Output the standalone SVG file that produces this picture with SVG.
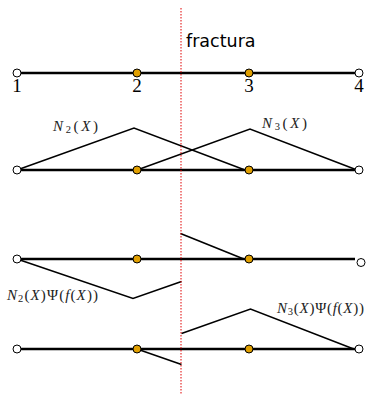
<svg xmlns="http://www.w3.org/2000/svg" width="366" height="394" viewBox="0 0 366 394">
<style>
.bar{stroke:#000;stroke-width:2.6;fill:none}
.fn{stroke:#000;stroke-width:1.6;fill:none;stroke-linejoin:miter}
.w{fill:#fff;stroke:#000;stroke-width:1}
.o{fill:#E09F00;stroke:#000;stroke-width:1}
.num{font-family:"Liberation Serif","DejaVu Serif",serif;font-size:19px;text-anchor:middle}
.m{font-family:"Liberation Serif","DejaVu Serif",serif;font-size:15px;fill:#222}
.i{font-style:italic}
.s{font-size:10.5px}
</style>
<rect width="366" height="394" fill="#fff"/>
<g id="connectors">
<line class="bar" x1="17" y1="73" x2="359" y2="73"/>
<line class="bar" x1="17" y1="170" x2="359" y2="170"/>
<line class="bar" x1="17" y1="259" x2="355" y2="259"/>
<line class="bar" x1="17" y1="349" x2="359" y2="349"/>
<polyline class="fn" points="17,170 134,128 245,170"/>
<polyline class="fn" points="137,170 250,129 357,170"/>
<polyline class="fn" points="17,259 133,298.5 181.5,281.5"/>
<polyline class="fn" points="180.5,233.5 245,259.5"/>
<polyline class="fn" points="137,349 181.5,364.5"/>
<polyline class="fn" points="181.5,333.5 250.5,309 355,349.5"/>
</g>
<g id="fracture">
<line x1="181" y1="8" x2="181" y2="394" stroke="#e00000" stroke-width="1" stroke-dasharray="1.5,1.5"/>
<text x="186" y="47" font-family="DejaVu Sans,sans-serif" font-size="17.5px">fractura</text>
</g>
<g id="row1">
<circle class="w" cx="17" cy="73" r="4"/>
<circle class="o" cx="137" cy="73" r="4"/>
<circle class="o" cx="249" cy="73" r="4"/>
<circle class="w" cx="359" cy="73" r="4"/>
<text class="num" x="17" y="92">1</text>
<text class="num" x="137" y="92">2</text>
<text class="num" x="249" y="92">3</text>
<text class="num" x="359" y="92">4</text>
</g>
<g id="row2">
<circle class="w" cx="17" cy="170" r="4"/>
<circle class="o" cx="137" cy="170" r="4"/>
<circle class="o" cx="249" cy="170" r="4"/>
<circle class="w" cx="359" cy="170" r="4"/>
<text class="m" x="53" y="131" font-size="16px" textLength="45" lengthAdjust="spacing"><tspan class="i">N</tspan><tspan class="s" dy="2">2</tspan><tspan dy="-2">(</tspan><tspan class="i">X</tspan>)</text>
<text class="m" x="262" y="128" font-size="16px" textLength="45" lengthAdjust="spacing"><tspan class="i">N</tspan><tspan class="s" dy="2">3</tspan><tspan dy="-2">(</tspan><tspan class="i">X</tspan>)</text>
</g>
<g id="row3">
<circle class="w" cx="17" cy="259" r="4"/>
<circle class="o" cx="137" cy="259" r="4"/>
<circle class="o" cx="249" cy="259" r="4"/>
<circle class="w" cx="361" cy="262.5" r="4"/>
<text class="m" x="7" y="300" textLength="91" lengthAdjust="spacing"><tspan class="i">N</tspan><tspan class="s" dy="2">2</tspan><tspan dy="-2">(</tspan><tspan class="i">X</tspan>)Ψ(<tspan class="i">f</tspan>(<tspan class="i">X</tspan>))</text>
</g>
<g id="row4">
<circle class="w" cx="17" cy="349" r="4"/>
<circle class="o" cx="137" cy="349" r="4"/>
<circle class="o" cx="249" cy="349" r="4"/>
<circle class="w" cx="359" cy="349" r="4"/>
<text class="m" x="277" y="313" textLength="87" lengthAdjust="spacing"><tspan class="i">N</tspan><tspan class="s" dy="2">3</tspan><tspan dy="-2">(</tspan><tspan class="i">X</tspan>)Ψ(<tspan class="i">f</tspan>(<tspan class="i">X</tspan>))</text>
</g>
</svg>
